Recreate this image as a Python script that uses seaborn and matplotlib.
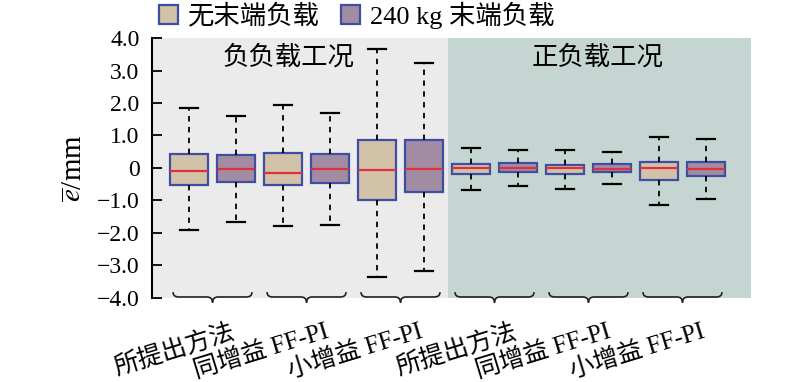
import numpy as np
import pandas as pd
import matplotlib
matplotlib.use("Agg")
import matplotlib.pyplot as plt
import matplotlib.transforms as mtransforms
from matplotlib.path import Path
from matplotlib.patches import PathPatch
import seaborn as sns

# five-number summary per box, order: group0/no-load, group0/240kg, group1/no-load, ...
low = [-1.91, -1.67, -1.80, -1.75, -3.36, -3.16, -0.67, -0.54, -0.65, -0.48, -1.14, -0.94]
q1 = [-0.52, -0.44, -0.52, -0.46, -0.99, -0.75, -0.19, -0.13, -0.19, -0.11, -0.36, -0.26]
med = [-0.08, -0.02, -0.16, -0.04, -0.05, -0.03, -0.01, 0.00, -0.01, -0.02, -0.01, -0.02]
q3 = [0.42, 0.41, 0.46, 0.42, 0.86, 0.86, 0.13, 0.15, 0.10, 0.13, 0.17, 0.19]
high = [1.85, 1.60, 1.93, 1.70, 3.65, 3.23, 0.60, 0.56, 0.55, 0.50, 0.96, 0.88]

loads = ["无末端负载", "240 kg 末端负载"]
tick_labels = ["所提出方法", "同增益 FF-PI", "小增益 FF-PI",
               "所提出方法", "同增益 FF-PI", "小增益 FF-PI"]
regions = ["负负载工况", "正负载工况"]
ytick_vals = [-4, -3, -2, -1, 0, 1, 2, 3, 4]
ytick_text = ["−4.0", "−3.0", "−2.0", "−1.0", "0", "1.0", "2.0", "3.0", "4.0"]

rows = []
for i in range(len(low)):
    g, h = divmod(i, 2)
    for v in (low[i], q1[i], med[i], q3[i], high[i]):
        rows.append({"group": g, "load": loads[h], "e": v})
df = pd.DataFrame(rows)

plt.rcParams["font.family"] = ["Liberation Serif", "Noto Sans CJK SC"]
plt.rcParams["mathtext.fontset"] = "stix"

fig = plt.figure(figsize=(8, 3.82), dpi=100)
ax = fig.add_axes([0.19, 0.22, 0.74875, 0.6805])

ax.axvspan(-0.644, 2.5, color="#EBEBEB", zorder=0, lw=0)
ax.axvspan(2.5, 5.729, color="#C5D6D2", zorder=0, lw=0)

sns.boxplot(data=df, x="group", y="e", hue="load", hue_order=loads,
            order=list(range(6)), palette=["#D9C4A1", "#A688A6"],
            width=1.0, gap=0.21, whis=(0, 100), linecolor="#3E4FA3",
            linewidth=1.6, showfliers=False, ax=ax,
            medianprops=dict(color="#E0303E", linewidth=1.6),
            whiskerprops=dict(color="black", linestyle=(0, (3, 3)), linewidth=1.3),
            capprops=dict(color="black", linewidth=1.6))

# braces under each group
for g in range(6):
    x0, x1, r = g - 0.42, g + 0.42, 0.06
    ytop, ybase, ytip = -3.82, -3.97, -4.14
    verts = [(x0, ytop), (x0, ybase), (x0 + r, ybase),
             (g - r, ybase), (g, ybase), (g, ytip),
             (g, ybase), (g + r, ybase),
             (x1 - r, ybase), (x1, ybase), (x1, ytop)]
    codes = [Path.MOVETO, Path.CURVE3, Path.CURVE3,
             Path.LINETO, Path.CURVE3, Path.CURVE3,
             Path.CURVE3, Path.CURVE3,
             Path.LINETO, Path.CURVE3, Path.CURVE3]
    ax.add_patch(PathPatch(Path(verts, codes), fill=False, lw=1.2,
                           edgecolor="#222222", clip_on=False, zorder=3))

ax.text(0.81, 3.42, regions[0], ha="center", va="center", fontsize=19)
ax.text(4.1, 3.42, regions[1], ha="center", va="center", fontsize=19)

ax.set_xlim(-0.644, 5.729)
ax.set_ylim(-4, 4)
ax.set_yticks(ytick_vals)
ax.set_yticklabels(ytick_text, fontsize=17)
ax.tick_params(axis="y", direction="in", length=7, width=1.3, pad=9)
ax.set_xticks(range(6))
ax.set_xticklabels(tick_labels, fontsize=18, rotation=17, ha="right",
                   rotation_mode="anchor")
ax.tick_params(axis="x", length=0, pad=16)
offset = mtransforms.ScaledTranslation(18 / 100, 0, fig.dpi_scale_trans)
for lab in ax.get_xticklabels():
    lab.set_transform(lab.get_transform() + offset)

ax.set_xlabel("")
ax.set_ylabel(r"$\overline{e}$/mm", fontsize=21, labelpad=6)
for s in ["top", "right", "bottom"]:
    ax.spines[s].set_visible(False)
ax.spines["left"].set_linewidth(1.5)
ax.patch.set_visible(False)

sns.move_legend(ax, "upper left", bbox_to_anchor=(0.012, 1.14), ncol=2,
                frameon=False, title=None, fontsize=19, handlelength=0.7,
                handleheight=0.7, handletextpad=0.4, columnspacing=0.8,
                borderaxespad=0, borderpad=0)

fig.savefig("out.png", dpi=100)
